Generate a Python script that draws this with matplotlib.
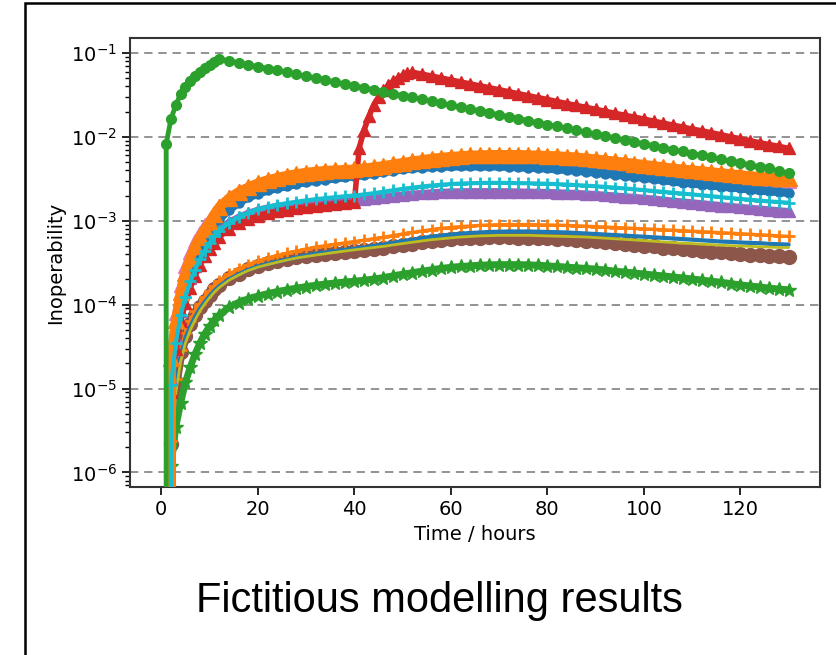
import matplotlib
matplotlib.use("Agg")
import matplotlib.pyplot as plt
from matplotlib.patches import Rectangle
import numpy as np

# time grid: hourly to 12 h, then every 2 h
hours = list(range(0, 13)) + list(range(14, 131, 2))
# red series has its own grid (hourly around the jump at 40 h)
hours_red = list(range(0, 13)) + list(range(14, 41, 2)) + list(range(41, 53)) + list(range(54, 131, 2))

# all values in units of 1e-4
green_spike = [0, 83, 164, 240, 325, 390, 460, 530, 600, 660, 720, 790, 850,
               806, 765, 725, 688, 652, 619, 587, 556, 528, 500, 475, 450, 427, 405,
               384, 364, 345, 328, 311, 295, 280, 265, 251, 238, 226, 215, 204, 193, 183, 174, 165, 156, 148, 140,
               133, 126, 120, 114, 108, 102, 97, 92, 87, 83, 78, 74, 70, 67, 63, 60, 57, 54, 51, 49, 46, 44, 42, 39, 37]

orange_a = [0, 0, 0.23, 0.65, 1.4, 2.4, 3.6, 5.0, 6.4, 7.9, 9.6, 12, 14.5,
            18.5, 22, 25, 28, 30.5, 32.5, 34.5, 36, 37.5, 38.5, 39.5, 40, 40.5, 41,
            42, 43.5, 45, 47, 49, 51, 53, 55, 56.5, 58, 59, 60, 60.5, 61, 61, 61, 61, 60.5, 60, 59.5,
            59, 58, 57, 55.5, 54, 52.5, 51, 49.5, 48, 46.5, 45, 43.5, 42, 41, 40, 39, 38, 37, 36, 35, 34, 33.5, 33, 32.5, 32]

pink_a = [0, 0, 0.3, 0.8, 1.7, 2.9, 4.2, 5.7, 7.2, 8.8, 10.5, 12.5, 15,
          19, 22.5, 25.5, 28, 30.5, 32.5, 34, 35.5, 37, 38, 39, 39.5, 40, 40.5,
          41.5, 43, 44.5, 46, 48, 50, 52, 53.5, 55, 56, 57, 58, 58.5, 58.5, 58.5, 58.5, 58, 57.5, 57, 56.5,
          56, 55, 54, 52.5, 51, 50, 48.5, 47, 45.5, 44, 42.5, 41, 40, 38.5, 37.5, 36.5, 35.5, 34.5, 33.5, 32.5, 31.5, 31, 30.5, 30, 29.5]

blue_a = [0, 0, 0.15, 0.45, 1.0, 1.8, 2.8, 3.9, 5.0, 6.2, 7.5, 9, 10.5,
          13.5, 16.5, 19, 21, 23, 24.5, 26, 27.5, 29, 30, 31, 32, 33, 34,
          35, 36.5, 38, 39.5, 41, 42, 43, 43.5, 44, 44.5, 44.5, 44.5, 44.5, 44.5, 44.5, 44, 43.5, 43, 42.5, 42,
          41, 40.5, 39.5, 38.5, 37.5, 36.5, 35.5, 34.5, 33.5, 32.5, 31.5, 30.5, 29.5, 28.5, 28, 27, 26.5, 25.5, 25, 24.5, 23.5, 23, 22.5, 22, 21.5]

cyan_a = [0, 0, 0.11, 0.35, 0.75, 1.25, 1.9, 2.6, 3.5, 4.4, 5.4, 6.5, 7.6,
          9.5, 11, 12.5, 13.7, 14.7, 15.5, 16.2, 16.9, 17.5, 18.1, 18.6, 19.1, 19.6, 20,
          20.6, 21.3, 22.2, 23.1, 24, 24.8, 25.6, 26.3, 26.9, 27.4, 27.8, 28, 28.2, 28.3, 28.3, 28.2, 28.1, 28, 27.8, 27.6,
          27.3, 27, 26.6, 26.2, 25.8, 25.3, 24.8, 24.3, 23.7, 23.2, 22.6, 22.1, 21.6, 21.1, 20.6, 20.1, 19.6, 19.1, 18.6, 18.2, 17.8, 17.4, 17, 16.7, 16.4]

purple_a = [0, 0, 0.13, 0.4, 0.85, 1.4, 2.1, 2.9, 3.8, 4.7, 5.7, 6.8, 7.9,
            9.6, 11, 12.3, 13.4, 14.2, 14.9, 15.4, 15.9, 16.3, 16.7, 17.1, 17.4, 17.7, 18,
            18.4, 18.8, 19.3, 19.8, 20.3, 20.8, 21.2, 21.6, 21.9, 22.1, 22.2, 22.3, 22.3, 22.3, 22.3, 22.2, 22.1, 22, 21.9, 21.8,
            21.6, 21.4, 21.2, 20.9, 20.6, 20.2, 19.8, 19.4, 19, 18.6, 18.2, 17.7, 17.2, 16.8, 16.4, 16, 15.6, 15.2, 14.8, 14.5, 14.1, 13.8, 13.5, 13.2, 12.9]

red_a = [0, 0, 0.09, 0.3, 0.63, 1.05, 1.6, 2.2, 3.0, 3.8, 4.6, 5.5, 6.4,
         8.0, 9.3, 10.5, 11.5, 12.3, 13, 13.6, 14.1, 14.6, 15.1, 15.5, 15.9, 16.3, 16.7,
         74, 120, 175, 240, 300, 360, 410, 460, 500, 540, 570, 590,
         560, 531, 503, 477, 452, 428, 406, 385, 365, 345, 327, 310, 294, 279, 264, 250, 237, 225, 213, 202,
         191, 181, 172, 163, 154, 146, 138, 131, 124, 118, 112, 106, 100, 95, 90, 85, 81, 77, 73]

brown_b = [0, 0, 0.022, 0.12, 0.27, 0.42, 0.58, 0.75, 0.93, 1.12, 1.32, 1.52, 1.72,
           2.05, 2.35, 2.65, 2.9, 3.1, 3.3, 3.5, 3.65, 3.8, 3.95, 4.05, 4.15, 4.25, 4.35,
           4.45, 4.6, 4.75, 4.95, 5.15, 5.35, 5.55, 5.75, 5.9, 6.05, 6.15, 6.25, 6.3, 6.35, 6.35, 6.35, 6.3, 6.25, 6.2, 6.15,
           6.1, 6.0, 5.9, 5.8, 5.7, 5.6, 5.5, 5.35, 5.2, 5.05, 4.95, 4.8, 4.7, 4.6, 4.5, 4.4, 4.3, 4.2, 4.1, 4.0, 3.95, 3.9, 3.8, 3.75, 3.7]

orange_b = [0, 0, 0.024, 0.13, 0.29, 0.46, 0.64, 0.83, 1.03, 1.24, 1.46, 1.68, 1.9,
            2.3, 2.65, 3.0, 3.3, 3.6, 3.85, 4.1, 4.35, 4.6, 4.85, 5.05, 5.25, 5.45, 5.65,
            5.85, 6.1, 6.35, 6.65, 6.95, 7.25, 7.55, 7.85, 8.1, 8.3, 8.5, 8.65, 8.8, 8.9, 8.95, 9.0, 9.0, 9.0, 8.95, 8.9,
            8.85, 8.8, 8.7, 8.6, 8.5, 8.4, 8.3, 8.2, 8.1, 8.0, 7.9, 7.8, 7.7, 7.6, 7.5, 7.4, 7.3, 7.2, 7.1, 7.0, 6.9, 6.8, 6.7, 6.6, 6.5]

blue_b = [0, 0, 0.02, 0.11, 0.25, 0.4, 0.55, 0.72, 0.9, 1.08, 1.27, 1.47, 1.66,
          2.0, 2.3, 2.6, 2.85, 3.05, 3.25, 3.45, 3.65, 3.85, 4.05, 4.2, 4.35, 4.5, 4.65,
          4.8, 5.0, 5.2, 5.45, 5.7, 5.95, 6.2, 6.45, 6.65, 6.85, 7.0, 7.15, 7.25, 7.35, 7.4, 7.45, 7.45, 7.45, 7.4, 7.35,
          7.3, 7.25, 7.15, 7.05, 6.95, 6.85, 6.75, 6.65, 6.55, 6.45, 6.35, 6.25, 6.15, 6.05, 5.95, 5.85, 5.75, 5.65, 5.6, 5.5, 5.45, 5.4, 5.3, 5.25, 5.2]

olive_b = [0, 0, 0.015, 0.09, 0.21, 0.35, 0.5, 0.66, 0.84, 1.02, 1.21, 1.41, 1.6,
           1.95, 2.25, 2.55, 2.8, 3.0, 3.2, 3.4, 3.6, 3.75, 3.9, 4.05, 4.2, 4.35, 4.5,
           4.65, 4.8, 4.95, 5.15, 5.35, 5.55, 5.75, 5.95, 6.1, 6.25, 6.4, 6.5, 6.6, 6.65, 6.7, 6.7, 6.7, 6.7, 6.65, 6.6,
           6.55, 6.5, 6.45, 6.4, 6.3, 6.2, 6.1, 6.0, 5.9, 5.8, 5.7, 5.6, 5.5, 5.4, 5.35, 5.25, 5.2, 5.1, 5.05, 5.0, 4.95, 4.9, 4.85, 4.8, 4.8]

green_star = [0, 0, 0.012, 0.035, 0.068, 0.12, 0.18, 0.26, 0.35, 0.45, 0.55, 0.65, 0.75,
              0.93, 1.06, 1.17, 1.26, 1.35, 1.43, 1.5, 1.57, 1.64, 1.7, 1.76, 1.81, 1.86, 1.9,
              1.95, 2.02, 2.1, 2.2, 2.3, 2.4, 2.5, 2.6, 2.7, 2.78, 2.85, 2.9, 2.95, 2.98, 3.0, 3.0, 3.0, 2.98, 2.95, 2.9,
              2.85, 2.8, 2.75, 2.7, 2.65, 2.58, 2.5, 2.45, 2.38, 2.32, 2.25, 2.2, 2.14, 2.08, 2.02, 1.96, 1.9, 1.84, 1.78, 1.72, 1.67, 1.62, 1.57, 1.53, 1.5]

unit = 1e-4

fig = plt.figure(figsize=(8.36, 6.55), dpi=100)
ax = fig.add_axes([0.1555, 0.2565, 0.8254, 0.6855])
ax.set_yscale('log')


def line(x, y, color, marker, ms, lw=1.5, mew=1.0, z=2):
    ax.plot(x, np.array(y) * unit, color=color, marker=marker, markersize=ms,
            linewidth=lw, markeredgewidth=mew, zorder=z,
            solid_joinstyle='round', solid_capstyle='round')


# lower group
line(hours, brown_b, 'tab:brown', 'o', 10, lw=7, z=2)
line(hours, blue_b, 'tab:blue', None, 0, lw=3, z=2.1)
line(hours, orange_b, 'tab:orange', '+', 9, lw=2.5, mew=2, z=2.05)
line(hours, olive_b, 'tab:olive', None, 0, lw=2, z=2.2)
line(hours, green_star, 'tab:green', '*', 10, lw=5, z=2)

# upper group
line(hours, pink_a, 'tab:pink', '^', 10, lw=5, z=3)
line(hours, blue_a, 'tab:blue', 'o', 6.5, lw=6, z=3.05)
line(hours, orange_a, 'tab:orange', '^', 11, lw=7, z=3.1)
line(hours, purple_a, 'tab:purple', '^', 8, lw=5, z=3)
line(hours_red, red_a, 'tab:red', '^', 9, lw=4, z=3.05)
line(hours, cyan_a, 'tab:cyan', '+', 9, lw=3, mew=2, z=3.1)
line(hours, green_spike, 'tab:green', 'o', 7, lw=3.5, z=3.2)

ax.set_xlim(-6.5, 136.5)
ax.set_ylim(6.7e-7, 0.151)
ax.set_xticks([0, 20, 40, 60, 80, 100, 120])
ax.grid(axis='y', which='major', linestyle=(0, (5, 3.5)), color='gray', linewidth=1.2)
ax.tick_params(labelsize=14, length=6, width=1.2)
ax.tick_params(which='minor', length=3.5, width=1)
for s in ax.spines.values():
    s.set_color('#333333')
    s.set_linewidth(1.5)

ax.set_xlabel('Time / hours', fontsize=14)
ax.set_ylabel('Inoperability', fontsize=14)

fig.patches.append(Rectangle((25 / 836, -0.05), 1.1, 1.05 - 3 / 655,
                             transform=fig.transFigure, fill=False,
                             edgecolor='black', linewidth=1.8))
fig.text(439 / 836, 1 - 601 / 655, 'Fictitious modelling results', ha='center', va='center',
         fontsize=30, family='Liberation Sans')

fig.savefig('out.png', dpi=100)
